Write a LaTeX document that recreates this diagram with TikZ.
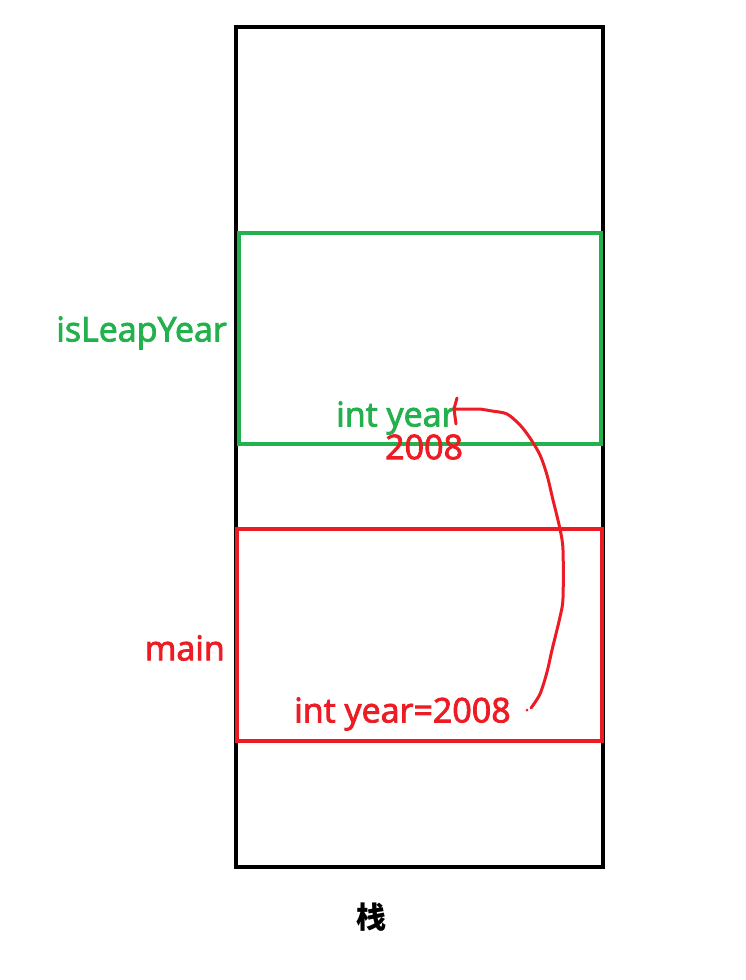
\documentclass[tikz,border=0pt]{standalone}
\usepackage{fontspec}
\setmainfont{Open Sans}[FakeBold=2.5]
\newfontfamily\cjk{Noto Sans CJK SC}
\definecolor{pgreen}{RGB}{34,177,76}
\definecolor{pred}{RGB}{237,28,36}
\tikzset{
  frame/.style={draw, line width=4pt},
  lbl/.style={inner sep=0pt, font=\fontsize{34}{40}\selectfont},
  hand/.style={draw=pred, line width=3pt, line cap=round, line join=round},
}
\begin{document}
\begin{tikzpicture}[x=1pt,y=-1pt]
\useasboundingbox (0,0) rectangle (746,980);
% stack
\draw[frame, black] (236,27) rectangle (603,867);
\draw[frame, pgreen] (239,233) rectangle (601,444);
\draw[frame, pred] (237,529) rectangle (602,741);
% labels
\node[lbl, text=pgreen, anchor=east] (lf) at (227,333) {isLeapYear};
\node[lbl, text=pred, anchor=east] (mf) at (225,648) {main};
\node[lbl, text=pgreen, anchor=west] (iy) at (336,418) {int year};
\node[lbl, text=pred, anchor=west] (v) at (385,447) {2008};
\node[lbl, text=pred, anchor=west] (my) at (294,714) {int year=2008};
\node[inner sep=0pt, font=\cjk\bfseries\fontsize{30}{34}\selectfont] (st) at (371,917) {栈};
% hand-drawn arrow
\coordinate (s) at (531,708);
\coordinate (t) at (454,409);
\draw[hand] (s) plot[smooth, tension=0.5] coordinates {(531,708) (540,694) (547,672) (552,650) (560,617) (563,598) (563,550) (560,529) (553,500) (547,475) (540,455) (530,438) (520,425) (507,414) (492,411) (480,409)} -- (t);
\draw[hand] (457,398) -- (t) -- (456,424);
\fill[pred] (527,710) circle (1.5);
\end{tikzpicture}
\end{document}
